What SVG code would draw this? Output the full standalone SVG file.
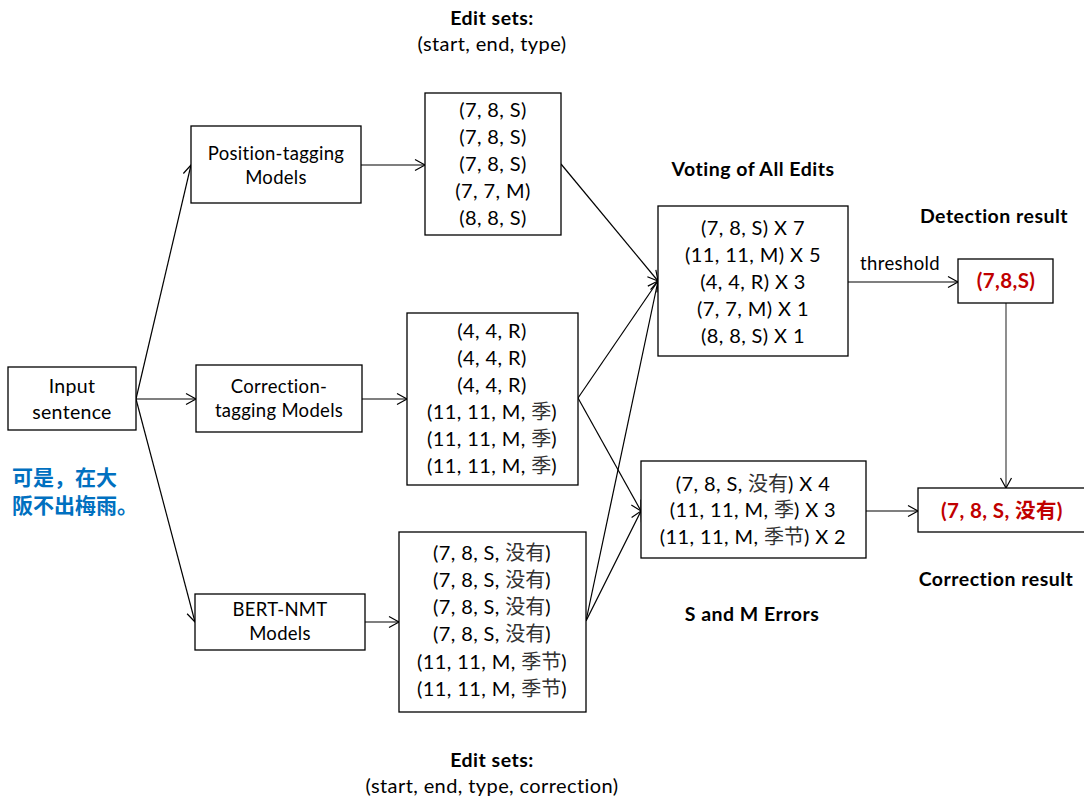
<svg xmlns="http://www.w3.org/2000/svg" width="1084" height="798" viewBox="0 0 1084 798">
<style>
.box{fill:#fff;stroke:#000;stroke-width:1.3}
.t{font-family:Lato,"Noto Sans CJK SC",sans-serif;font-size:20px;letter-spacing:0.4px;fill:#000;text-anchor:middle}
.n{font-family:Lato,"Noto Sans CJK SC",sans-serif;font-size:18.5px;letter-spacing:0.3px;fill:#000;text-anchor:middle}
.h{font-family:Lato,"Noto Sans CJK SC",sans-serif;font-size:19.5px;letter-spacing:0.5px;font-weight:bold;fill:#000;text-anchor:middle}
.r{font-family:Lato,"Noto Sans CJK SC",sans-serif;font-size:20.5px;letter-spacing:0.4px;font-weight:bold;fill:#C00000;text-anchor:middle}
.zh{font-family:"Noto Sans CJK SC",sans-serif;font-size:21px;font-weight:bold;fill:#0070C0}
.c{fill:#333;letter-spacing:0}
.ln{stroke:#000;stroke-width:1.2;fill:none;marker-end:url(#a)}
</style>
<defs>
<marker id="a" markerWidth="14" markerHeight="14" refX="12" refY="7" orient="auto" markerUnits="userSpaceOnUse">
<path d="M2,1.5 L12,7 L2,12.5" fill="none" stroke="#000" stroke-width="1.2"/>
</marker>
</defs>

<g id="labels">
<text class="h" x="492" y="25">Edit sets:</text>
<text class="t" x="492" y="51">(start, end, type)</text>
<text class="h" x="753" y="176">Voting of All Edits</text>
<text class="h" x="994" y="223">Detection result</text>
<text class="t" x="900" y="270" style="font-size:18.5px">threshold</text>
<text class="h" x="996" y="586">Correction result</text>
<text class="h" x="752" y="621">S and M Errors</text>
<text class="h" x="492" y="767">Edit sets:</text>
<text class="t" x="492" y="793">(start, end, type, correction)</text>
<text class="zh" x="12" y="485">可是，在大</text>
<text class="zh" x="12" y="513">阪不出梅雨。</text>
</g>

<g id="connectors">
<line class="ln" x1="136" y1="399" x2="191" y2="165"/>
<line class="ln" x1="136" y1="399" x2="196" y2="399"/>
<line class="ln" x1="136" y1="399" x2="195" y2="622"/>
<line class="ln" x1="361" y1="165" x2="425" y2="165"/>
<line class="ln" x1="362" y1="399" x2="407" y2="399"/>
<line class="ln" x1="365" y1="622" x2="399" y2="622"/>
<line class="ln" x1="561" y1="164" x2="658" y2="281"/>
<line class="ln" x1="578" y1="398" x2="658" y2="281"/>
<line class="ln" x1="578" y1="398" x2="641" y2="511"/>
<line class="ln" x1="586" y1="621" x2="658" y2="281"/>
<line class="ln" x1="586" y1="621" x2="641" y2="511"/>
<line class="ln" x1="848" y1="282" x2="958" y2="282"/>
<line class="ln" x1="866" y1="511" x2="918" y2="511"/>
<line class="ln" x1="1006" y1="303" x2="1006" y2="488" style="stroke:#444"/>
</g>

<g id="input">
<rect class="box" x="8" y="367" width="128" height="63"/>
<text class="n" x="72" y="393" style="font-size:19.5px">Input</text>
<text class="n" x="72" y="419" style="font-size:19.5px">sentence</text>
</g>

<g id="position-tagging">
<rect class="box" x="191" y="126" width="170" height="77"/>
<text class="n" x="276" y="160">Position-tagging</text>
<text class="n" x="276" y="184">Models</text>
</g>

<g id="correction-tagging">
<rect class="box" x="196" y="365" width="166" height="67"/>
<text class="n" x="279" y="393">Correction-</text>
<text class="n" x="279" y="417">tagging Models</text>
</g>

<g id="bert-nmt">
<rect class="box" x="195" y="594" width="170" height="56"/>
<text class="n" x="280" y="616">BERT-NMT</text>
<text class="n" x="280" y="640">Models</text>
</g>

<g id="edits1">
<rect class="box" x="425" y="93" width="136" height="142"/>
<text class="t" x="493" y="117">(7, 8, S)</text>
<text class="t" x="493" y="144">(7, 8, S)</text>
<text class="t" x="493" y="171">(7, 8, S)</text>
<text class="t" x="493" y="198">(7, 7, M)</text>
<text class="t" x="493" y="225">(8, 8, S)</text>
</g>

<g id="edits2">
<rect class="box" x="407" y="313" width="171" height="172"/>
<text class="t" x="492" y="338">(4, 4, R)</text>
<text class="t" x="492" y="365">(4, 4, R)</text>
<text class="t" x="492" y="392">(4, 4, R)</text>
<text class="t" x="492" y="419">(11, 11, M, <tspan class="c">季</tspan>)</text>
<text class="t" x="492" y="446">(11, 11, M, <tspan class="c">季</tspan>)</text>
<text class="t" x="492" y="473">(11, 11, M, <tspan class="c">季</tspan>)</text>
</g>

<g id="edits3">
<rect class="box" x="399" y="532" width="187" height="180"/>
<text class="t" x="492" y="560">(7, 8, S, <tspan class="c">没有</tspan>)</text>
<text class="t" x="492" y="587">(7, 8, S, <tspan class="c">没有</tspan>)</text>
<text class="t" x="492" y="614">(7, 8, S, <tspan class="c">没有</tspan>)</text>
<text class="t" x="492" y="641">(7, 8, S, <tspan class="c">没有</tspan>)</text>
<text class="t" x="492" y="669">(11, 11, M, <tspan class="c">季节</tspan>)</text>
<text class="t" x="492" y="696">(11, 11, M, <tspan class="c">季节</tspan>)</text>
</g>

<g id="voting">
<rect class="box" x="658" y="206" width="190" height="150"/>
<text class="t" x="753" y="235">(7, 8, S) X 7</text>
<text class="t" x="753" y="262">(11, 11, M) X 5</text>
<text class="t" x="753" y="289">(4, 4, R) X 3</text>
<text class="t" x="753" y="316">(7, 7, M) X 1</text>
<text class="t" x="753" y="343">(8, 8, S) X 1</text>
</g>

<g id="sm-errors">
<rect class="box" x="641" y="461" width="225" height="97"/>
<text class="t" x="753" y="491">(7, 8, S, <tspan class="c">没有</tspan>) X 4</text>
<text class="t" x="753" y="517">(11, 11, M, <tspan class="c">季</tspan>) X 3</text>
<text class="t" x="753" y="544">(11, 11, M, <tspan class="c">季节</tspan>) X 2</text>
</g>

<g id="detection">
<rect class="box" x="958" y="259" width="95" height="44"/>
<text class="r" x="1006" y="288">(7,8,S)</text>
</g>

<g id="correction">
<rect class="box" x="918" y="488" width="172" height="44"/>
<text class="r" x="1002" y="518">(7, 8, S, 没有)</text>
</g>
</svg>
